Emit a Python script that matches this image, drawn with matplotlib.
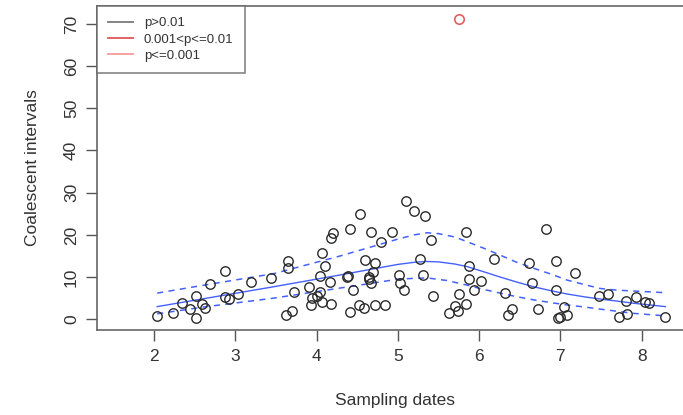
import matplotlib
matplotlib.use("Agg")
import matplotlib.pyplot as plt
from matplotlib.lines import Line2D

plt.rcParams['font.family'] = ['Liberation Sans', 'DejaVu Sans']

# observed coalescent intervals (black points, p>0.01)
dates = [2.04, 2.23, 2.34, 2.45, 2.52, 2.52, 2.59, 2.63, 2.69, 2.88, 2.88, 2.92,
         3.03, 3.20, 3.44, 3.65, 3.65, 3.63, 3.70, 3.72, 3.91, 3.93, 3.95, 4.00,
         4.04, 4.07, 4.04, 4.07, 4.10, 4.16, 4.18, 4.20, 4.18, 4.37, 4.39, 4.41,
         4.41, 4.45, 4.52, 4.53, 4.59, 4.60, 4.64, 4.65, 4.67, 4.67, 4.70, 4.72,
         4.72, 4.79, 4.84, 4.93, 5.02, 5.03, 5.07, 5.10, 5.20, 5.33, 5.27, 5.31,
         5.41, 5.43, 5.63, 5.70, 5.74, 5.75, 5.84, 5.84, 5.87, 5.88, 5.94, 6.02,
         6.18, 6.32, 6.35, 6.40, 6.61, 6.65, 6.72, 6.82, 6.94, 6.94, 6.97, 7.00,
         7.05, 7.08, 7.18, 7.48, 7.58, 7.72, 7.81, 7.82, 7.93, 8.04, 8.09, 8.29]
intervals = [0.8, 1.4, 3.9, 2.5, 5.5, 0.4, 3.6, 2.6, 8.4, 11.4, 5.2, 4.8,
             6.0, 8.8, 9.9, 13.8, 12.1, 0.9, 2.0, 6.5, 7.7, 3.4, 5.0, 5.5,
             6.5, 4.0, 10.3, 15.6, 12.6, 8.8, 19.2, 20.5, 3.6, 10.0, 10.2, 21.4,
             1.7, 6.9, 3.4, 24.9, 2.6, 14.1, 10.1, 9.5, 8.6, 20.8, 11.3, 13.3,
             3.4, 18.2, 3.4, 20.8, 10.5, 8.5, 6.9, 28.0, 25.7, 24.5, 14.2, 10.5,
             18.8, 5.6, 1.4, 3.2, 2.0, 6.0, 3.6, 20.8, 12.7, 9.5, 6.9, 9.1,
             14.3, 6.3, 1.0, 2.4, 13.4, 8.7, 2.4, 21.4, 13.9, 6.9, 0.4, 0.5,
             2.8, 1.0, 10.9, 5.5, 6.0, 0.6, 4.3, 1.2, 5.2, 4.0, 3.8, 0.5]

# outlier (red)
out_dates = [5.75]
out_intervals = [71.2]

# fitted expectation and bounds
mid_x = [2.04, 2.65, 3.47, 4.29, 4.6, 4.8, 5.0, 5.2, 5.35, 5.5, 5.7, 5.85, 6.05,
         6.26, 6.45, 6.67, 6.9, 7.08, 7.3, 7.49, 7.7, 7.9, 8.1, 8.29]
mid_y = [3.0, 5.0, 7.7, 10.5, 11.6, 12.3, 13.0, 13.5, 13.7, 13.6, 13.1, 12.5, 11.3,
         10.0, 8.9, 7.7, 6.7, 6.0, 5.3, 4.8, 4.3, 3.8, 3.4, 3.0]
hi_x = [2.04, 2.65, 3.47, 4.29, 4.7, 5.0, 5.2, 5.36, 5.5, 5.7, 5.85, 6.05, 6.26,
        6.45, 6.67, 6.9, 7.08, 7.3, 7.49, 7.7, 7.9, 8.29]
hi_y = [6.2, 8.2, 10.8, 15.0, 17.3, 19.0, 20.0, 20.5, 20.3, 19.5, 18.4, 16.9, 15.2,
        13.6, 12.1, 10.6, 9.3, 8.2, 7.3, 6.9, 6.7, 6.3]
lo_x = [2.04, 2.65, 3.47, 4.29, 4.7, 5.0, 5.2, 5.36, 5.6, 5.85, 6.05, 6.26, 6.45,
        6.67, 6.9, 7.08, 7.3, 7.49, 7.7, 7.9, 8.1, 8.29]
lo_y = [1.3, 3.0, 5.0, 7.4, 8.6, 9.5, 9.7, 9.8, 9.2, 8.1, 7.1, 6.2, 5.4,
        4.6, 3.9, 3.4, 2.9, 2.4, 1.9, 1.4, 1.1, 0.8]

x_ticks = [2, 3, 4, 5, 6, 7, 8]
y_ticks = [0, 10, 20, 30, 40, 50, 60, 70]
legend_labels = ["p>0.01", "0.001<p<=0.01", "p<=0.001"]
legend_colors = ["#7a7a7a", "#e05555", "#f59a9a"]

W, H = 683, 415
fig = plt.figure(figsize=(W / 100, H / 100), dpi=100)
left_px, right_px, top_px, bot_px = 97, 690, 6, 330
ax = fig.add_axes([left_px / W, (H - bot_px) / H, (right_px - left_px) / W, (bot_px - top_px) / H])

blue = "#3050ff"
ax.plot(mid_x, mid_y, color=blue, lw=1.0, alpha=0.9)
ax.plot(hi_x, hi_y, color=blue, lw=1.1, ls=(0, (4, 3.5)), alpha=0.9)
ax.plot(lo_x, lo_y, color=blue, lw=1.1, ls=(0, (4, 3.5)), alpha=0.9)

ax.plot(dates, intervals, ls="none", marker="o", ms=6.8, mfc="none", mec="#2a2a2a", mew=1.0)
ax.plot(out_dates, out_intervals, ls="none", marker="o", ms=6.8, mfc="none", mec="#e06060", mew=1.2)

ax.set_xlim(1.30, 1.30 + (right_px - left_px) / 81.3)
ax.set_ylim(-2.54, 74.24)
ax.set_xticks(x_ticks)
ax.set_yticks(y_ticks)
ax.set_xticklabels([str(v) for v in x_ticks], fontsize=12.5, color="#333333")
ax.set_yticklabels([str(v) for v in y_ticks], fontsize=12.5, color="#333333", rotation=90, va="center")
ax.tick_params(axis="both", direction="out", length=8, width=1.0, color="#555555", pad=6)
ax.tick_params(axis="y", pad=5)
for s in ["left", "top", "bottom"]:
    ax.spines[s].set_color("#666666")
    ax.spines[s].set_linewidth(1.2)
ax.spines["right"].set_visible(False)

ax.set_xlabel("Sampling dates", fontsize=12.5, color="#333333")
ax.set_ylabel("Coalescent intervals", fontsize=12.5, color="#333333", labelpad=17)
ax.xaxis.set_label_coords((395 - left_px) / (right_px - left_px), -(393 - bot_px) / (bot_px - top_px))

handles = [Line2D([0], [0], color=c, lw=1.3) for c in legend_colors]
leg = ax.legend(handles, legend_labels, loc="upper left", bbox_to_anchor=(0, 1),
                borderaxespad=0, frameon=True, fancybox=False, fontsize=9.5,
                handlelength=1.9, handletextpad=0.8, labelspacing=0.3,
                borderpad=0.85, labelcolor="#333333")
leg.get_frame().set_edgecolor("#666666")
leg.get_frame().set_linewidth(1.2)

fig.savefig("out.png", dpi=100)
